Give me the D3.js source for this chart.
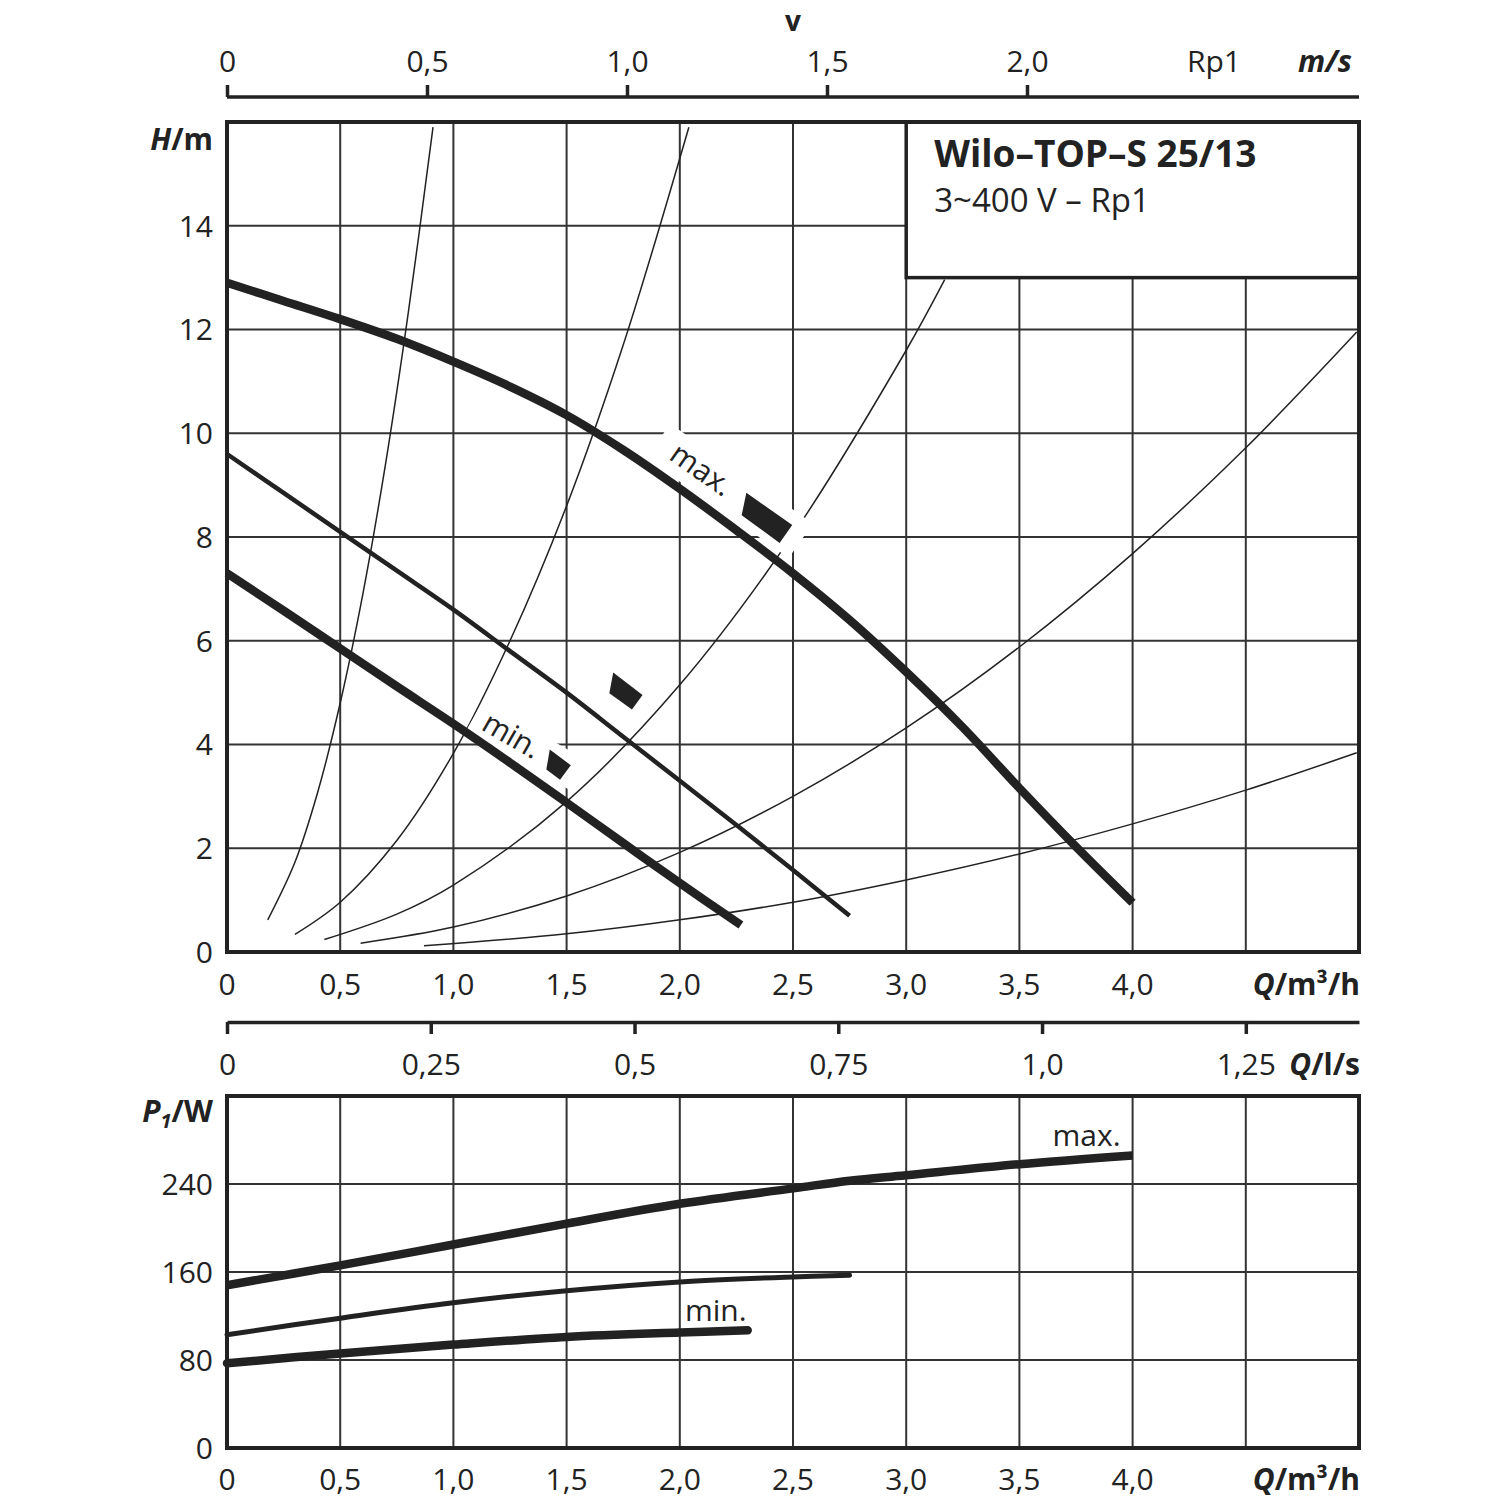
<!DOCTYPE html>
<html><head><meta charset="utf-8">
<script src="https://cdn.jsdelivr.net/npm/d3@7"></script>
<style>
body{margin:0;background:#fff}
svg{display:block}
text{font-family:"Open Sans","Noto Sans",sans-serif;fill:#222}
</style>
</head><body>
<svg id="c" width="1500" height="1500"></svg>
<script>
// ---------- data ----------
const qTickValues = [0,0.5,1.0,1.5,2.0,2.5,3.0,3.5,4.0];
const qTickLabels = ["0","0,5","1,0","1,5","2,0","2,5","3,0","3,5","4,0"];
const qGrid = [0.5,1.0,1.5,2.0,2.5,3.0,3.5,4.0,4.5];
const hTickValues = [0,2,4,6,8,10,12,14];
const hTickLabels = ["0","2","4","6","8","10","12","14"];
const pTickValues = [0,80,160,240];
const pTickLabels = ["0","80","160","240"];
const vTickValues = [0,0.5,1.0,1.5,2.0];
const vTickLabels = ["0","0,5","1,0","1,5","2,0"];
const lsTickValues = [0,0.25,0.5,0.75,1.0,1.25];
const lsTickLabels = ["0","0,25","0,5","0,75","1,0","1,25"];

// pump curves H(Q)
const hMax = [[0,12.9],[0.25,12.55],[0.5,12.2],[0.75,11.82],[1.0,11.38],[1.25,10.9],[1.5,10.35],[1.75,9.68],[2.0,8.93],[2.25,8.13],[2.5,7.3],[2.75,6.4],[3.0,5.4],[3.25,4.33],[3.5,3.16],[3.75,2.03],[4.0,0.95]];
const hMid = [[0,9.6],[0.25,8.85],[0.5,8.1],[0.75,7.35],[1.0,6.6],[1.25,5.8],[1.5,5.0],[1.75,4.15],[2.0,3.3],[2.25,2.45],[2.5,1.58],[2.75,0.7]];
const hMin = [[0,7.3],[0.25,6.58],[0.5,5.85],[0.75,5.12],[1.0,4.4],[1.25,3.65],[1.5,2.88],[1.75,2.1],[2.0,1.33],[2.27,0.52]];

// system curves
const sys1 = [[0.18,0.62],[0.3,1.73],[0.4,3.07],[0.5,4.8],[0.6,6.9],[0.7,9.4],[0.8,12.3],[0.91,15.9]];
const sys2 = [[0.3,0.34],[0.5,0.96],[0.75,2.15],[1.0,3.83],[1.25,6.0],[1.5,8.6],[1.75,11.7],[2.04,15.9]];
const sys3 = [[0.43,0.24],[0.75,0.73],[1.0,1.29],[1.5,2.9],[2.0,5.15],[2.5,8.05],[3.0,11.6],[3.17,12.96]];
const sys4 = [[0.59,0.17],[1.0,0.48],[1.5,1.08],[2.0,1.92],[2.5,3.0],[3.0,4.32],[3.5,5.88],[4.0,7.68],[4.5,9.72],[4.99,11.95]];
const sys5 = [[0.87,0.12],[1.5,0.35],[2.0,0.62],[2.5,0.96],[3.0,1.39],[3.5,1.89],[4.0,2.47],[4.5,3.12],[4.99,3.84]];

// power curves P1(Q)
const pMax = [[0,148],[0.5,166],[1.0,185],[1.5,204],[2.0,222],[2.5,236],[2.75,243],[3.0,248],[3.5,258],[4.0,266]];
const pMid = [[0,103],[0.5,118],[1.0,132],[1.5,143],[2.0,151],[2.5,155.5],[2.75,157]];
const pMin = [[0,77],[0.5,86],[1.0,94],[1.5,101],[2.0,105],[2.3,107]];

// ---------- scales ----------
const svg = d3.select("#c");
const x = d3.scaleLinear().domain([0,5]).range([227,1359]);
const yH = d3.scaleLinear().domain([0,16]).range([952,122]);
const yP = d3.scaleLinear().domain([0,320]).range([1448,1096]);
const xV = d3.scaleLinear().domain([0,2.83]).range([227,1359]);
const xL = d3.scaleLinear().domain([0,5/3.6]).range([227,1359]);

const ink = "#222";
const gridC = "#333";
const FONT = '"Open Sans","Noto Sans",sans-serif';
const smooth = d3.curveCatmullRom.alpha(0.5);

// layers
const gGrid = svg.append("g");
const gSys = svg.append("g");
const gLegend = svg.append("g");
const gLabBg = svg.append("g");
const gCurves = svg.append("g");
const gLabFg = svg.append("g");
const gFrame = svg.append("g");
const gText = svg.append("g");

// ---------- top chart ----------
gGrid.selectAll(".vg").data(qGrid).join("line")
  .attr("x1",d=>x(d)).attr("x2",d=>x(d)).attr("y1",yH(16)).attr("y2",yH(0))
  .attr("stroke",gridC).attr("stroke-width",2);
gGrid.selectAll(".hg").data(hTickValues.filter(d=>d>0)).join("line")
  .attr("x1",x(0)).attr("x2",x(5)).attr("y1",d=>yH(d)).attr("y2",d=>yH(d))
  .attr("stroke",gridC).attr("stroke-width",2);

const lineH = d3.line().x(d=>x(d[0])).y(d=>yH(d[1])).curve(smooth);
[sys1,sys2,sys3,sys4,sys5].forEach(s=>{
  gSys.append("path").attr("d",lineH(s)).attr("fill","none").attr("stroke",ink).attr("stroke-width",1.5);
});

// legend box
gLegend.append("rect").attr("x",x(3.0)).attr("y",yH(16)).attr("width",x(5)-x(3.0)).attr("height",yH(13)-yH(16))
  .attr("fill","#fff").attr("stroke",ink).attr("stroke-width",3.5);
gLegend.append("text").attr("x",x(3.0)+28).attr("y",167).attr("font-size",37).attr("font-weight",700)
  .text("Wilo–TOP–S 25/13");
gLegend.append("text").attr("x",x(3.0)+28).attr("y",212).attr("font-size",33)
  .text("3~400 V – Rp1");

// curve labels (rotated boxes with speed wedge)
const curveLabels = [
  {q:2.244,h:8.91,ang:35,box:[-91,-17,174,42],wedge:[[11,-4],[67,-4],[67,18],[20,17]],txt:"max.",tx:-39,ty:13},
  {q:1.74,h:4.97,ang:36,box:[-30,-22,60,44],wedge:[[-19,-13],[18,-12],[18,6],[-10,6]],txt:"",tx:0,ty:0},
  {q:1.32,h:3.99,ang:30,box:[-59,-17,118,34],wedge:[[23,-8],[49,-5],[47,13],[30,11]],txt:"min.",tx:-17,ty:9}
];
curveLabels.forEach(l=>{
  const tr = `translate(${x(l.q)},${yH(l.h)}) rotate(${l.ang})`;
  gLabBg.append("rect").attr("transform",tr).attr("x",l.box[0]).attr("y",l.box[1]).attr("width",l.box[2]).attr("height",l.box[3]).attr("fill","#fff");
  const g = gLabFg.append("g").attr("transform",tr);
  g.append("polygon").attr("points",l.wedge.map(p=>p.join(",")).join(" ")).attr("fill",ink);
  if(l.txt) g.append("text").attr("x",l.tx).attr("y",l.ty).attr("text-anchor","middle").attr("font-size",30).text(l.txt);
});

// pump curves
gCurves.append("path").attr("d",lineH(hMax)).attr("fill","none").attr("stroke",ink).attr("stroke-width",8.5);
gCurves.append("path").attr("d",lineH(hMid)).attr("fill","none").attr("stroke",ink).attr("stroke-width",4.5);
gCurves.append("path").attr("d",lineH(hMin)).attr("fill","none").attr("stroke",ink).attr("stroke-width",8.5);

// frame
gFrame.append("rect").attr("x",x(0)).attr("y",yH(16)).attr("width",x(5)-x(0)).attr("height",yH(0)-yH(16))
  .attr("fill","none").attr("stroke",ink).attr("stroke-width",4);

// y labels
gText.selectAll(".hl").data(hTickValues).join("text")
  .attr("x",213).attr("y",d=>yH(d)).attr("dy","0.36em").attr("text-anchor","end").attr("font-size",30)
  .text((d,i)=>hTickLabels[i]);
// x labels
gText.selectAll(".ql").data(qTickValues).join("text")
  .attr("x",d=>x(d)).attr("y",995).attr("text-anchor","middle").attr("font-size",30)
  .text((d,i)=>qTickLabels[i]);
// axis titles
const hT = gText.append("text").attr("x",213).attr("y",150).attr("text-anchor","end").attr("font-size",30).attr("font-weight",700);
hT.append("tspan").attr("font-style","italic").text("H");
hT.append("tspan").text("/m");
const qT = gText.append("text").attr("x",1360).attr("y",995).attr("text-anchor","end").attr("font-size",30).attr("font-weight",700);
qT.append("tspan").attr("font-style","italic").text("Q");
qT.append("tspan").text("/m³/h");

// ---------- velocity axis ----------
const vAx = svg.append("g").attr("transform","translate(0,97)")
  .call(d3.axisTop(xV).tickValues(vTickValues).tickSize(12).tickSizeOuter(0).tickFormat((d,i)=>vTickLabels[i]));
vAx.select(".domain").attr("stroke",ink).attr("stroke-width",3.5).attr("d",`M${xV(0)},0H${x(5)}`);
vAx.selectAll(".tick line").attr("stroke",ink).attr("stroke-width",3.5);
vAx.selectAll(".tick text").attr("font-size",30).attr("y",-25).attr("dy",0).attr("fill",ink).attr("font-family",FONT);
gText.append("text").attr("x",793).attr("y",31).attr("text-anchor","middle").attr("font-size",28).attr("font-weight",700).text("v");
gText.append("text").attr("x",1214).attr("y",72).attr("text-anchor","middle").attr("font-size",30).text("Rp1");
gText.append("text").attr("x",1352).attr("y",72).attr("text-anchor","end").attr("font-size",30).attr("font-weight",700).attr("font-style","italic").text("m/s");

// ---------- l/s axis ----------
const lAx = svg.append("g").attr("transform","translate(0,1022)")
  .call(d3.axisBottom(xL).tickValues(lsTickValues).tickSize(12).tickSizeOuter(0).tickFormat((d,i)=>lsTickLabels[i]));
lAx.select(".domain").attr("stroke",ink).attr("stroke-width",3.5);
lAx.selectAll(".tick line").attr("stroke",ink).attr("stroke-width",3.5);
lAx.selectAll(".tick text").attr("font-size",30).attr("y",53).attr("dy",0).attr("fill",ink).attr("font-family",FONT);
const lT = gText.append("text").attr("x",1360).attr("y",1075).attr("text-anchor","end").attr("font-size",30).attr("font-weight",700);
lT.append("tspan").attr("font-style","italic").text("Q");
lT.append("tspan").text("/l/s");

// ---------- bottom chart ----------
const gB = svg.append("g");
gB.selectAll(".vg2").data(qGrid).join("line")
  .attr("x1",d=>x(d)).attr("x2",d=>x(d)).attr("y1",yP(320)).attr("y2",yP(0))
  .attr("stroke",gridC).attr("stroke-width",2);
gB.selectAll(".hg2").data(pTickValues.filter(d=>d>0)).join("line")
  .attr("x1",x(0)).attr("x2",x(5)).attr("y1",d=>yP(d)).attr("y2",d=>yP(d))
  .attr("stroke",gridC).attr("stroke-width",2);
const lineP = d3.line().x(d=>x(d[0])).y(d=>yP(d[1])).curve(smooth);
gB.append("path").attr("d",lineP(pMax)).attr("fill","none").attr("stroke",ink).attr("stroke-width",8.5);
gB.append("path").attr("d",lineP(pMid)).attr("fill","none").attr("stroke",ink).attr("stroke-width",5).attr("stroke-linecap","round");
gB.append("path").attr("d",lineP(pMin)).attr("fill","none").attr("stroke",ink).attr("stroke-width",8.5).attr("stroke-linecap","round");
gB.append("rect").attr("x",x(0)).attr("y",yP(320)).attr("width",x(5)-x(0)).attr("height",yP(0)-yP(320))
  .attr("fill","none").attr("stroke",ink).attr("stroke-width",4);
gB.selectAll(".pl").data(pTickValues).join("text")
  .attr("x",213).attr("y",d=>yP(d)).attr("dy","0.36em").attr("text-anchor","end").attr("font-size",30)
  .text((d,i)=>pTickLabels[i]);
gB.selectAll(".ql2").data(qTickValues).join("text")
  .attr("x",d=>x(d)).attr("y",1490).attr("text-anchor","middle").attr("font-size",30)
  .text((d,i)=>qTickLabels[i]);
const qT2 = gB.append("text").attr("x",1360).attr("y",1490).attr("text-anchor","end").attr("font-size",30).attr("font-weight",700);
qT2.append("tspan").attr("font-style","italic").text("Q");
qT2.append("tspan").text("/m³/h");
const pT = gB.append("text").attr("x",213).attr("y",1122).attr("text-anchor","end").attr("font-size",30).attr("font-weight",700);
pT.append("tspan").attr("font-style","italic").text("P");
pT.append("tspan").attr("font-style","italic").attr("font-size",20).attr("dy",6).text("1");
pT.append("tspan").attr("dy",-6).text("/W");
gB.append("text").attr("x",x(4.0)-12).attr("y",1146).attr("text-anchor","end").attr("font-size",30).text("max.");
gB.append("text").attr("x",685).attr("y",1321).attr("font-size",30).text("min.");
</script>
</body></html>
